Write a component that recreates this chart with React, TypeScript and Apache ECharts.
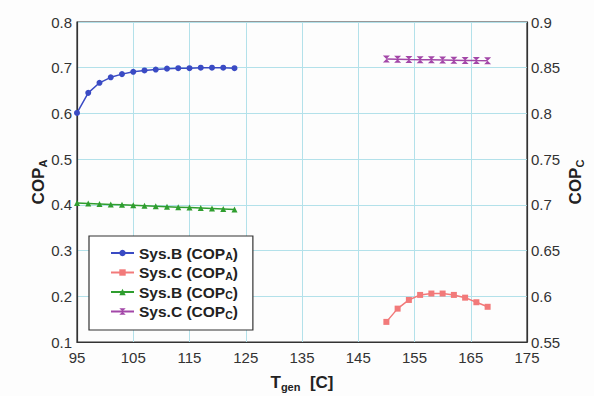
import React, { useEffect, useRef } from "react";
import * as echarts from "echarts";

const tempB = [95, 97, 99, 101, 103, 105, 107, 109, 111, 113, 115, 117, 119, 121, 123];
const tempC = [150, 152, 154, 156, 158, 160, 162, 164, 166, 168];
const sysB_copA = [0.601, 0.645, 0.667, 0.679, 0.686, 0.691, 0.694, 0.696, 0.698, 0.699, 0.699, 0.7, 0.7, 0.7, 0.699];
const sysC_copA = [0.144, 0.173, 0.192, 0.203, 0.206, 0.206, 0.203, 0.197, 0.187, 0.177];
const sysB_copC = [0.702, 0.7015, 0.701, 0.7005, 0.7, 0.6995, 0.699, 0.6985, 0.698, 0.6975, 0.697, 0.6965, 0.696, 0.6955, 0.695];
const sysC_copC = [0.8595, 0.8593, 0.859, 0.8588, 0.8586, 0.8584, 0.8582, 0.858, 0.8578, 0.8577];
const seriesNames = ["Sys.B (COPA)", "Sys.C (COPA)", "Sys.B (COPC)", "Sys.C (COPC)"];
const legendLabels: Record<string, string> = {
  "Sys.B (COPA)": "{b|Sys.B (COP}{s|A}{b|)}",
  "Sys.C (COPA)": "{b|Sys.C (COP}{s|A}{b|)}",
  "Sys.B (COPC)": "{b|Sys.B (COP}{s|C}{b|)}",
  "Sys.C (COPC)": "{b|Sys.C (COP}{s|C}{b|)}",
};

const FONT = "'Liberation Sans', Arial, Helvetica, sans-serif";
const GRID_COLOR = "#b3e1ea";

function pairs(xs: number[], ys: number[]) {
  return xs.map((x, i) => [x, ys[i]]);
}

export default function App() {
  const ref = useRef<HTMLDivElement>(null);
  useEffect(() => {
    if (!ref.current) return;
    const chart = echarts.init(ref.current, undefined, { renderer: "svg" });
    const richName = {
      b: { fontSize: 17, fontWeight: "bold", fontFamily: FONT, color: "#222", lineHeight: 20 },
      s: { fontSize: 11, fontWeight: "bold", fontFamily: FONT, color: "#222", lineHeight: 12, verticalAlign: "bottom", padding: [4, 0, 0, 0] },
      n: { fontSize: 17, fontWeight: "bold", fontFamily: FONT, color: "#222", lineHeight: 20 },
    };
    const option: any = {
      animation: false,
      backgroundColor: "#fdfdfd",
      grid: {
        left: 77,
        right: 67,
        top: 22,
        bottom: 54,
        outerBoundsMode: "none",
        containLabel: false,
        show: true,
        borderColor: "#333",
        borderWidth: 1.2,
        backgroundColor: "transparent",
      },
      legend: {
        data: seriesNames,
        orient: "vertical",
        left: 89,
        top: 236,
        padding: [9, 15, 10, 21],
        itemGap: 3,
        itemWidth: 23,
        itemHeight: 8,
        backgroundColor: "#fff",
        borderColor: "#333",
        borderWidth: 1.2,
        formatter: (name: string) => legendLabels[name],
        textStyle: {
          fontFamily: FONT,
          rich: {
            b: { fontSize: 15.5, fontWeight: "bold", color: "#222", fontFamily: FONT, lineHeight: 17 },
            s: { fontSize: 10.5, fontWeight: "bold", color: "#222", fontFamily: FONT, lineHeight: 11, verticalAlign: "bottom", padding: [3, 0, 0, 0] },
          },
        },
      },
      xAxis: {
        type: "value",
        min: 95,
        max: 175,
        interval: 10,
        name: "{b|T}{s|gen}{n|  [C]}",
        nameLocation: "middle",
        nameGap: 30,
        nameMoveOverlap: false,
        nameTextStyle: { rich: richName },
        axisLine: { show: true, lineStyle: { color: "#333", width: 1.2 } },
        axisTick: { show: false },
        axisLabel: { fontFamily: FONT, fontSize: 15, color: "#333", margin: 8 },
        splitLine: { show: true, lineStyle: { color: GRID_COLOR, width: 1 } },
      },
      yAxis: [
        {
          type: "value",
          min: 0.1,
          max: 0.8,
          interval: 0.1,
          name: "{b|COP}{s|A}",
          nameLocation: "middle",
          nameRotate: 90,
          nameGap: 29,
          nameMoveOverlap: false,
          nameTextStyle: { rich: richName },
          axisLine: { show: true, lineStyle: { color: "#333", width: 1.2 } },
          axisTick: { show: false },
          axisLabel: { fontFamily: FONT, fontSize: 15, color: "#333", margin: 5 },
          splitLine: { show: true, lineStyle: { color: GRID_COLOR, width: 1 } },
        },
        {
          type: "value",
          min: 0.55,
          max: 0.9,
          interval: 0.05,
          position: "right",
          name: "{b|COP}{s|C}",
          nameLocation: "middle",
          nameRotate: 90,
          nameGap: 38,
          nameMoveOverlap: false,
          nameTextStyle: { rich: richName },
          axisLine: { show: true, lineStyle: { color: "#333", width: 1.2 } },
          axisTick: { show: false },
          axisLabel: { fontFamily: FONT, fontSize: 15, color: "#333", margin: 4 },
          splitLine: { show: false },
        },
      ],
      series: [
        {
          name: seriesNames[0],
          type: "line",
          yAxisIndex: 0,
          data: pairs(tempB, sysB_copA),
          symbol: "circle",
          symbolSize: 6,
          color: "#3a4bc4",
          lineStyle: { width: 1.5 },
        },
        {
          name: seriesNames[1],
          type: "line",
          yAxisIndex: 0,
          data: pairs(tempC, sysC_copA),
          symbol: "rect",
          symbolSize: 6,
          color: "#f27a7a",
          lineStyle: { width: 1.5 },
        },
        {
          name: seriesNames[2],
          type: "line",
          yAxisIndex: 1,
          data: pairs(tempB, sysB_copC),
          symbol: "triangle",
          symbolSize: 6,
          color: "#2f9e2f",
          lineStyle: { width: 1.5 },
        },
        {
          name: seriesNames[3],
          type: "line",
          yAxisIndex: 1,
          data: pairs(tempC, sysC_copC),
          symbol: "path://M0,0L10,0L0,10L10,10Z",
          symbolSize: 7,
          color: "#a347a8",
          lineStyle: { width: 1.5 },
        },
      ],
    };
    chart.setOption(option);
    return () => chart.dispose();
  }, []);
  return (
    <div
      ref={ref}
      style={{ position: "fixed", left: 0, top: 0, width: 594, height: 396 }}
    />
  );
}
